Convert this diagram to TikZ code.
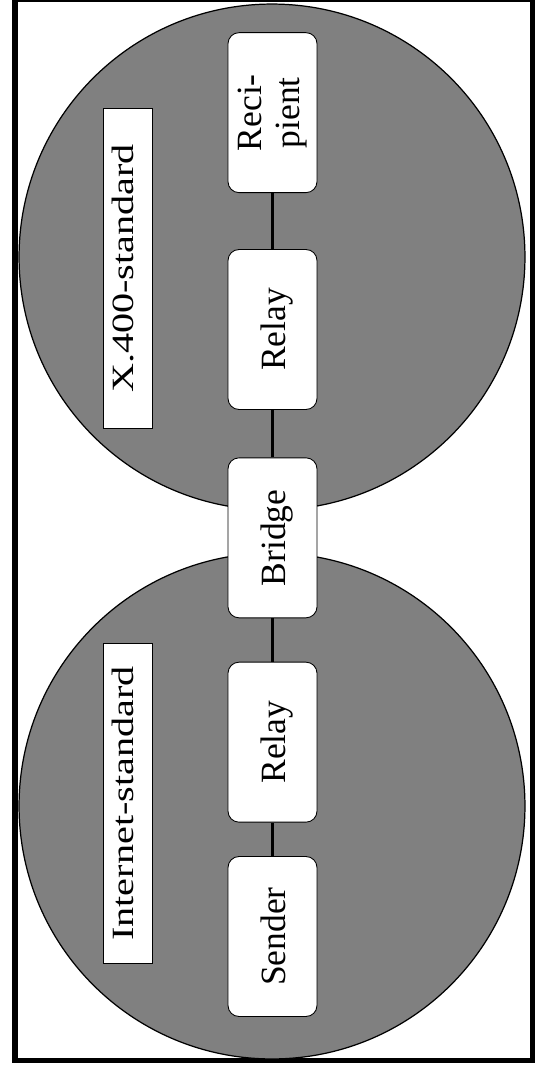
\documentclass[tikz,border=0pt]{standalone}
\usepackage{fontspec}
\setmainfont{Liberation Serif}
\usepackage{graphicx}
\usepackage{tikz}
\usetikzlibrary{positioning}

% text that reads from bottom to top
\newcommand{\uptext}[1]{\hspace{0.2cm}\rotatebox{90}{\strut #1}}
\newcommand{\sidetext}[1]{\rotatebox{90}{\scalebox{1.3}[1]{#1}\rule[-0.2cm]{0pt}{0.2cm}}}

\begin{document}
\begin{tikzpicture}[
    x=0.02cm, y=-0.02cm,
    zone/.style={circle, draw=black, line width=0.7pt, fill=gray, minimum size=10.12cm, inner sep=0pt},
    agent/.style={rectangle, rounded corners=0.22cm, draw=black, line width=0.5pt, fill=white, minimum width=1.78cm, minimum height=3.2cm, inner sep=0pt, font=\fontsize{20.2pt}{21.6pt}\selectfont},
    tag/.style={rectangle, draw=black, line width=0.5pt, fill=white, minimum width=0.98cm, minimum height=6.4cm, inner sep=0pt, font=\fontsize{17.6pt}{20pt}\selectfont},
    link/.style={line width=1.9pt},
    frame/.style={line width=3.1pt}
]

    % Frame
    \useasboundingbox (0,0) rectangle (535,1065);
    \draw[frame] (15,-0.5) rectangle (532.5,1060.5);

    % Domains
    \node[zone] (x400) at (272,257) {};
    \node[zone] (inet) at (272,806) {};

    % Agents - Sender at the bottom, the rest stacked above
    \node[agent] (sender) at (272.5,936.5) {\uptext{Sender}};
    \node[agent, above=0.67cm of sender] (relayA) {\uptext{Relay}};
    \node[agent, above=0.87cm of relayA] (bridge) {\uptext{Bridge}};
    \node[agent, above=0.95cm of bridge] (relayB) {\uptext{Relay}};
    \node[agent, above=1.12cm of relayB] (recipient) {\rotatebox{90}{\begin{tabular}{@{}c@{}}Reci-\\pient\end{tabular}}};

    % Standard labels
    \node[tag] (x400tag) at (127.5,268.5) {\sidetext{X.400-standard}};
    \node[tag] (inettag) at (127.5,803.5) {\sidetext{Internet-standard}};

    % Links
    \draw[link] (sender) -- (relayA);
    \draw[link] (relayA) -- (bridge);
    \draw[link] (bridge) -- (relayB);
    \draw[link] (relayB) -- (recipient);

\end{tikzpicture}
\end{document}
